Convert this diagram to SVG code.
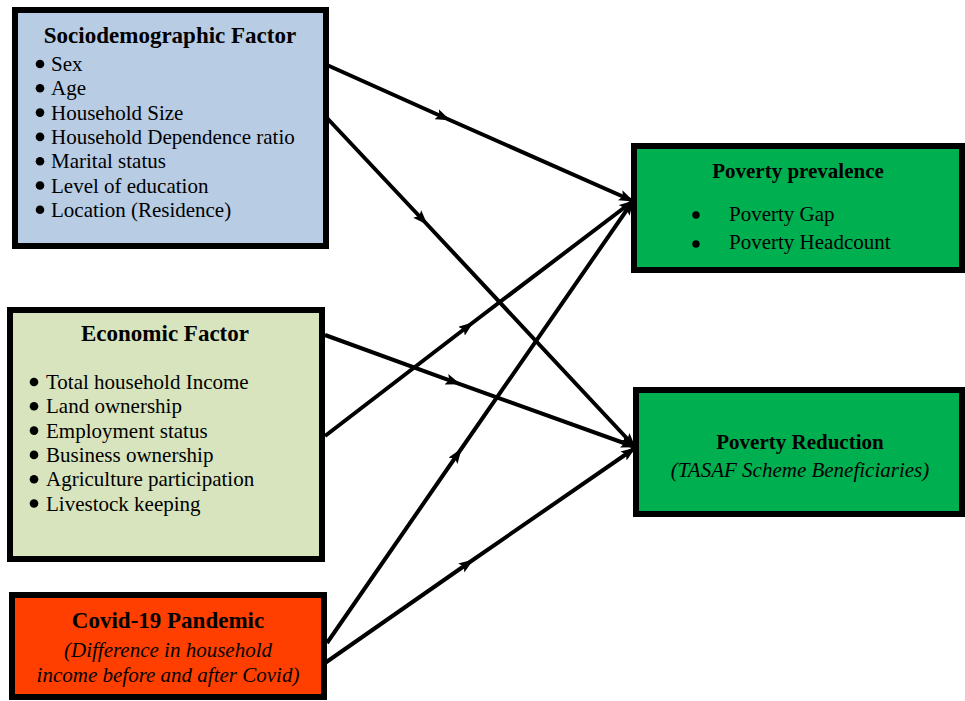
<svg xmlns="http://www.w3.org/2000/svg" width="965" height="701" viewBox="0 0 965 701">
<defs>
<style>
.box{stroke:#000;stroke-width:6}
.t{font-family:"Liberation Serif","Times New Roman",serif;fill:#000}
.h{font-size:23px;font-weight:bold;text-anchor:middle}
.hg{font-size:21px;font-weight:bold;text-anchor:middle}
.b{font-size:21px}
.i{font-size:21px;font-style:italic;text-anchor:middle}
.c{fill:none;stroke:#000;stroke-width:4;marker-mid:url(#am);marker-end:url(#ae)}
</style>
<marker id="am" markerUnits="userSpaceOnUse" viewBox="0 0 15 11" markerWidth="15" markerHeight="11" refX="7" refY="5.5" orient="auto">
<path d="M0,0 L15,5.5 L0,11 L3,5.5 z" fill="#000"/>
</marker>
<marker id="ae" markerUnits="userSpaceOnUse" viewBox="0 0 15 11" markerWidth="15" markerHeight="11" refX="14" refY="5.5" orient="auto">
<path d="M0,0 L15,5.5 L0,11 L3,5.5 z" fill="#000"/>
</marker>
</defs>
<rect width="965" height="701" fill="#fff"/>

<g id="socio">
<rect class="box" x="15" y="10" width="311" height="236" fill="#B8CCE4"/>
<text class="t h" x="170" y="43">Sociodemographic Factor</text>
<g fill="#000">
<circle cx="40" cy="64" r="4.3"/><circle cx="40" cy="88.3" r="4.3"/><circle cx="40" cy="112.6" r="4.3"/><circle cx="40" cy="136.9" r="4.3"/><circle cx="40" cy="161.2" r="4.3"/><circle cx="40" cy="185.5" r="4.3"/><circle cx="40" cy="209.8" r="4.3"/>
</g>
<text class="t b" x="51" y="71">Sex</text>
<text class="t b" x="51" y="95.3">Age</text>
<text class="t b" x="51" y="119.6">Household Size</text>
<text class="t b" x="51" y="143.9">Household Dependence ratio</text>
<text class="t b" x="51" y="168.2">Marital status</text>
<text class="t b" x="51" y="192.5">Level of education</text>
<text class="t b" x="51" y="216.8">Location (Residence)</text>
</g>

<g id="economic">
<rect class="box" x="10" y="310" width="312" height="249" fill="#D7E4BD"/>
<text class="t h" x="165" y="341">Economic Factor</text>
<g fill="#000">
<circle cx="34" cy="382" r="4.3"/><circle cx="34" cy="406.3" r="4.3"/><circle cx="34" cy="430.6" r="4.3"/><circle cx="34" cy="454.9" r="4.3"/><circle cx="34" cy="479.2" r="4.3"/><circle cx="34" cy="503.5" r="4.3"/>
</g>
<text class="t b" x="46" y="389">Total household Income</text>
<text class="t b" x="46" y="413.3">Land ownership</text>
<text class="t b" x="46" y="437.6">Employment status</text>
<text class="t b" x="46" y="461.9">Business ownership</text>
<text class="t b" x="46" y="486.2">Agriculture participation</text>
<text class="t b" x="46" y="510.5">Livestock keeping</text>
</g>

<g id="covid">
<rect class="box" x="12" y="595" width="312" height="102" fill="#FF3F00"/>
<text class="t h" x="168" y="627.5">Covid-19 Pandemic</text>
<text class="t i" x="168" y="657">(Difference in household</text>
<text class="t i" x="168" y="682">income before and after Covid)</text>
</g>

<g id="prevalence">
<rect class="box" x="634" y="146" width="328" height="124" fill="#00B050"/>
<text class="t hg" x="798" y="177.5">Poverty prevalence</text>
<circle cx="696" cy="215" r="3.7" fill="#000"/>
<circle cx="696" cy="244" r="3.7" fill="#000"/>
<text class="t b" x="729" y="220.5">Poverty Gap</text>
<text class="t b" x="729" y="249.3">Poverty Headcount</text>
</g>

<g id="reduction">
<rect class="box" x="636" y="390" width="326" height="124" fill="#00B050"/>
<text class="t hg" x="800" y="449">Poverty Reduction</text>
<text class="t i" x="800" y="476.5">(TASAF Scheme Beneficiaries)</text>
</g>

<g id="connectors">
<path class="c" d="M327,65 L443,117 L633,201"/>
<path class="c" d="M327,118 L422,219 L635,447"/>
<path class="c" d="M325,436 L467,327 L633,201"/>
<path class="c" d="M325,335 L453,381.6 L635,447"/>
<path class="c" d="M327,643 L457,455 L633,201"/>
<path class="c" d="M325,663 L467,564 L635,448"/>
</g>
</svg>
